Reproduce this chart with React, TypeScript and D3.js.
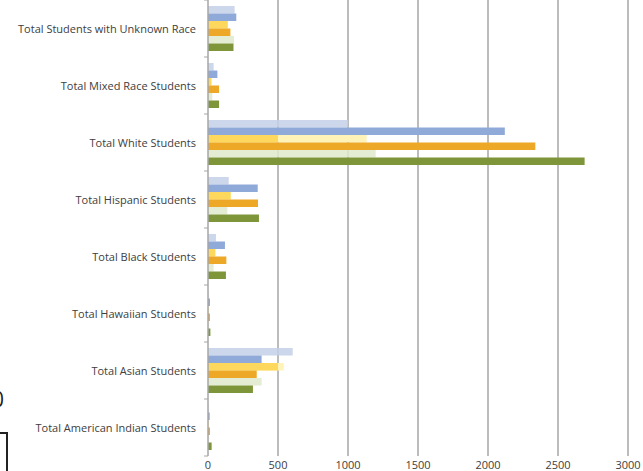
import React from "react";
import * as d3 from "d3";

const categories = [
  "Total Students with Unknown Race",
  "Total Mixed Race Students",
  "Total White Students",
  "Total Hispanic Students",
  "Total Black Students",
  "Total Hawaiian Students",
  "Total Asian Students",
  "Total American Indian Students",
];

const seriesNames = ["s1", "s2", "s3", "s4", "s5", "s6"];

const s1Values = [190, 40, 1000, 148, 57, 3, 605, 3];
const s2Values = [202, 67, 2120, 355, 121, 14, 383, 12];
const s3Values = [141, 24, 1133, 162, 52, 3, 541, 3];
const s4Values = [160, 79, 2338, 357, 131, 14, 348, 14];
const s5Values = [186, 31, 1198, 138, 40, 3, 383, 3];
const s6Values = [182, 79, 2690, 364, 128, 17, 321, 26];

const allValues = [s1Values, s2Values, s3Values, s4Values, s5Values, s6Values];

const xTicks = [0, 500, 1000, 1500, 2000, 2500, 3000];

const colors = ["#c3d0e8", "#8fa9d8", "#fff3b8", "#eda828", "#dfe9cc", "#7e9639"];
const opac = [0.85, 1, 1, 1, 0.85, 1];
const yellowDark = "#fdd85c";
const yellowCap = 500;

export default function App() {
  const W = 643, H = 471;
  const left = 208, right = 628, top = 0, bottom = 456;
  const x = d3.scaleLinear().domain([0, 3000]).range([left, right]);
  const y0 = d3.scaleBand().domain(categories).range([top, bottom]).padding(0);
  const y1 = d3
    .scaleBand()
    .domain(seriesNames)
    .range([0, y0.bandwidth()])
    .paddingInner(0)
    .paddingOuter(0.8);

  const font = "'Open Sans', 'Liberation Sans', sans-serif";
  const boundaries = d3.range(categories.length + 1).map((i) => top + i * y0.step());

  return (
    <svg
      width={W}
      height={H}
      style={{ position: "absolute", left: 0, top: 0, background: "#fff" }}
    >
      {/* gridlines */}
      {xTicks.slice(1).map((t) => (
        <line key={t} x1={x(t)} x2={x(t)} y1={top} y2={bottom} stroke="#a6a6a6" strokeWidth={1.5} />
      ))}
      {/* bars */}
      {categories.map((c, ci) => (
        <g key={c} transform={`translate(0,${y0(c)})`}>
          {seriesNames.map((s, si) => {
            const v = allValues[si][ci];
            const yy = y1(s)!;
            const h = y1.bandwidth();
            return (
              <g key={s}>
                <rect x={x(0)} y={yy} width={x(v) - x(0)} height={h} fill={colors[si]} fillOpacity={opac[si]} />
                {si === 2 && (
                  <rect
                    x={x(0)}
                    y={yy}
                    width={x(Math.min(v, yellowCap)) - x(0)}
                    height={h}
                    fill={yellowDark}
                  />
                )}
              </g>
            );
          })}
        </g>
      ))}
      {/* vertical axis */}
      <line x1={left} x2={left} y1={top} y2={bottom} stroke="#a6a6a6" strokeWidth={1.5} />
      {boundaries.map((b, i) => (
        <line key={i} x1={left - 4} x2={left} y1={b} y2={b} stroke="#a6a6a6" strokeWidth={1} />
      ))}
      {/* category labels */}
      {categories.map((c) => (
        <text
          key={c}
          x={196}
          y={y0(c)! + y0.bandwidth() / 2}
          textAnchor="end"
          dominantBaseline="central"
          fontFamily={font}
          fontSize={11}
          fill="#404040"
        >
          {c}
        </text>
      ))}
      {/* x tick labels */}
      {xTicks.map((t) => (
        <text
          key={t}
          x={x(t)}
          y={464}
          textAnchor="middle"
          dominantBaseline="central"
          fontFamily={font}
          fontSize={11}
          fill="#404040"
        >
          {t}
        </text>
      ))}
      {/* cropped fragments at the bottom-left */}
      <text x={4} y={407} textAnchor="end" fontFamily={font} fontSize={21} fill="#222">
        0
      </text>
      <polyline points="0,433 7,433 7,471" fill="none" stroke="#222" strokeWidth={2} />
    </svg>
  );
}
